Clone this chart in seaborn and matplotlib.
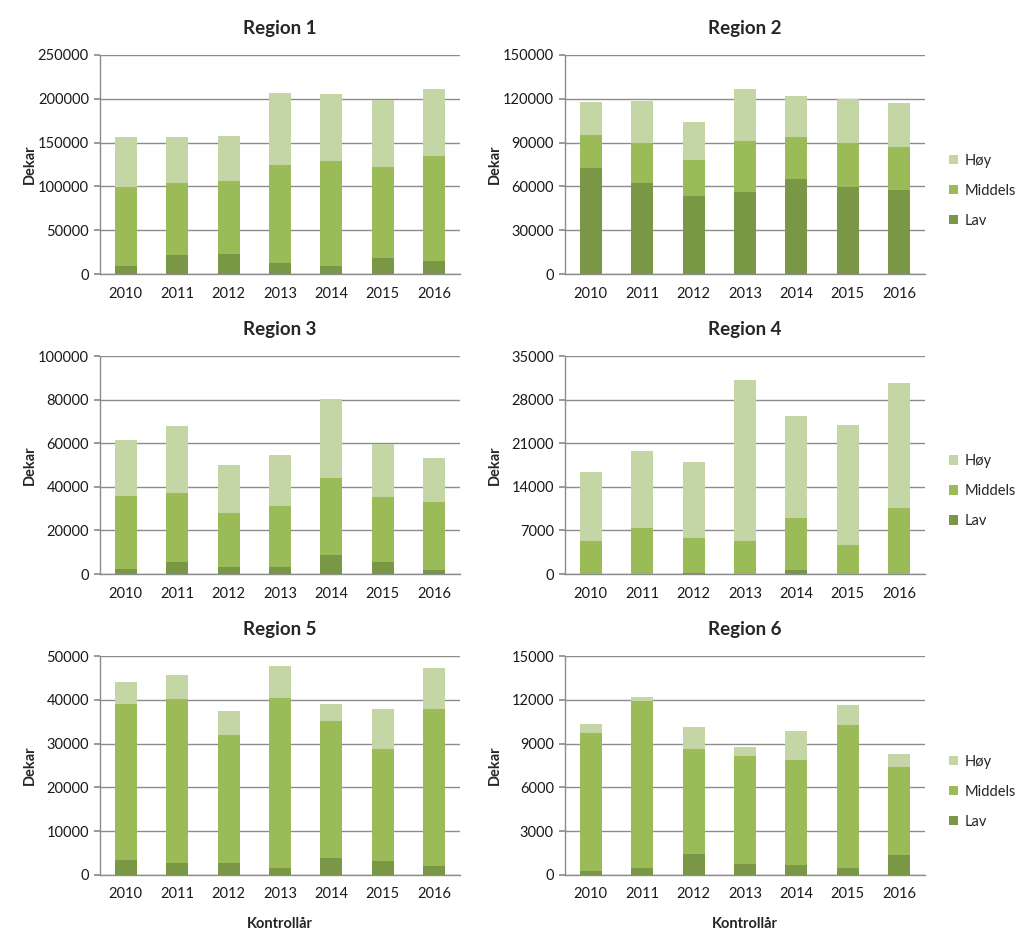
import matplotlib
matplotlib.use("Agg")
import matplotlib.pyplot as plt
import seaborn as sns
import numpy as np
import pandas as pd

years = ["2010", "2011", "2012", "2013", "2014", "2015", "2016"]
regions = ["Region 1", "Region 2", "Region 3", "Region 4", "Region 5", "Region 6"]
levels = ["Høy", "Middels", "Lav"]

# cumulative readings converted to segment values (Lav, Middels, Høy)
lav_r1 = [9500, 21400, 22500, 12200, 9500, 18700, 15300]
mid_r1 = [89700, 82000, 83600, 112600, 119500, 103100, 119400]
hoy_r1 = [57600, 52700, 51500, 81700, 76000, 76300, 76000]

lav_r2 = [72600, 62300, 53400, 55900, 64800, 59800, 57300]
mid_r2 = [22400, 27700, 24900, 35200, 29100, 30200, 30000]
hoy_r2 = [22700, 28600, 25700, 35800, 28200, 30200, 30000]

lav_r3 = [2300, 5600, 3400, 3400, 8500, 5600, 2000]
mid_r3 = [33400, 31700, 24500, 27700, 35500, 29500, 30800]
hoy_r3 = [25700, 30800, 21900, 23700, 36300, 24700, 20300]

lav_r4 = [60, 60, 200, 60, 700, 60, 60]
mid_r4 = [5180, 7260, 5520, 5280, 8330, 4540, 10470]
hoy_r4 = [11060, 12480, 12230, 25760, 16400, 19340, 20170]

lav_r5 = [3430, 2670, 2670, 1680, 3810, 3125, 2130]
mid_r5 = [35590, 37570, 29270, 38720, 31250, 25535, 35830]
hoy_r5 = [4960, 5410, 5480, 7390, 4040, 9140, 9220]

lav_r6 = [275, 500, 1440, 730, 660, 460, 1370]
mid_r6 = [9465, 11390, 7200, 7410, 7210, 9830, 6040]
hoy_r6 = [570, 300, 1470, 640, 1960, 1330, 870]

ymax = [250000, 150000, 100000, 35000, 50000, 15000]
ystep = [50000, 30000, 20000, 7000, 10000, 3000]

data = {
    "Region 1": (lav_r1, mid_r1, hoy_r1),
    "Region 2": (lav_r2, mid_r2, hoy_r2),
    "Region 3": (lav_r3, mid_r3, hoy_r3),
    "Region 4": (lav_r4, mid_r4, hoy_r4),
    "Region 5": (lav_r5, mid_r5, hoy_r5),
    "Region 6": (lav_r6, mid_r6, hoy_r6),
}

colors = {"Høy": "#c4d6a6", "Middels": "#9bbb59", "Lav": "#7a9746"}

sns.set_theme(style="white")
plt.rcParams["font.family"] = ["Lato", "DejaVu Sans"]

fig = plt.figure(figsize=(10.24, 9.44), dpi=100)

W, H = 1024, 944
lefts = [100, 565]
rows = [(55, 274), (356, 574), (656, 875)]

for i, reg in enumerate(regions):
    r, c = divmod(i, 2)
    top, bot = rows[r]
    ax = fig.add_axes([lefts[c] / W, 1 - bot / H, 360 / W, (bot - top) / H])
    lav, mid, hoy = data[reg]
    df = pd.DataFrame({"year": years, "Lav": lav, "Middels": mid, "Høy": hoy})
    df["c_lav"] = df["Lav"]
    df["c_mid"] = df["Lav"] + df["Middels"]
    df["c_hoy"] = df["c_mid"] + df["Høy"]
    for col, lev in [("c_hoy", "Høy"), ("c_mid", "Middels"), ("c_lav", "Lav")]:
        sns.barplot(data=df, x="year", y=col, color=colors[lev], width=0.43,
                    saturation=1, ax=ax, label=lev, zorder=3, linewidth=0,
                    edgecolor="none")
    ax.set_ylim(0, ymax[i])
    ax.set_yticks(np.arange(0, ymax[i] + 1, ystep[i]))
    ax.set_yticklabels([str(v) for v in np.arange(0, ymax[i] + 1, ystep[i])])
    ax.grid(axis="y", color="#8c8c8c", linewidth=1, zorder=0)
    ax.set_axisbelow(True)
    for s in ["top", "right"]:
        ax.spines[s].set_visible(False)
    for s in ["left", "bottom"]:
        ax.spines[s].set_color("#8c8c8c")
        ax.spines[s].set_linewidth(1)
    ax.tick_params(axis="y", length=4, color="#8c8c8c", left=True, pad=4, labelsize=10.5, labelcolor="#1a1a1a")
    ax.tick_params(axis="x", length=0, pad=9, labelsize=10.5, labelcolor="#1a1a1a")
    ax.set_xlim(-0.5, 6.5)
    ax.set_title(reg, fontsize=13.5, fontweight="bold", pad=15)
    ax.set_ylabel("Dekar", fontsize=10.5, fontweight="bold")
    ax.yaxis.set_label_coords(-0.175, 0.5)
    if r == 2:
        ax.set_xlabel("Kontrollår", fontsize=10.5, fontweight="bold")
        ax.xaxis.set_label_coords(0.5, -0.19)
    else:
        ax.set_xlabel("")
    if c == 1:
        handles, labels = ax.get_legend_handles_labels()
        ax.legend(handles, labels, loc="center left", bbox_to_anchor=(1.03, 0.38),
                  frameon=False, fontsize=10.5, handlelength=0.6, handleheight=0.6,
                  labelspacing=1.1, handletextpad=0.5)
    else:
        if ax.get_legend() is not None:
            ax.get_legend().remove()

fig.savefig("out.png", dpi=100)
